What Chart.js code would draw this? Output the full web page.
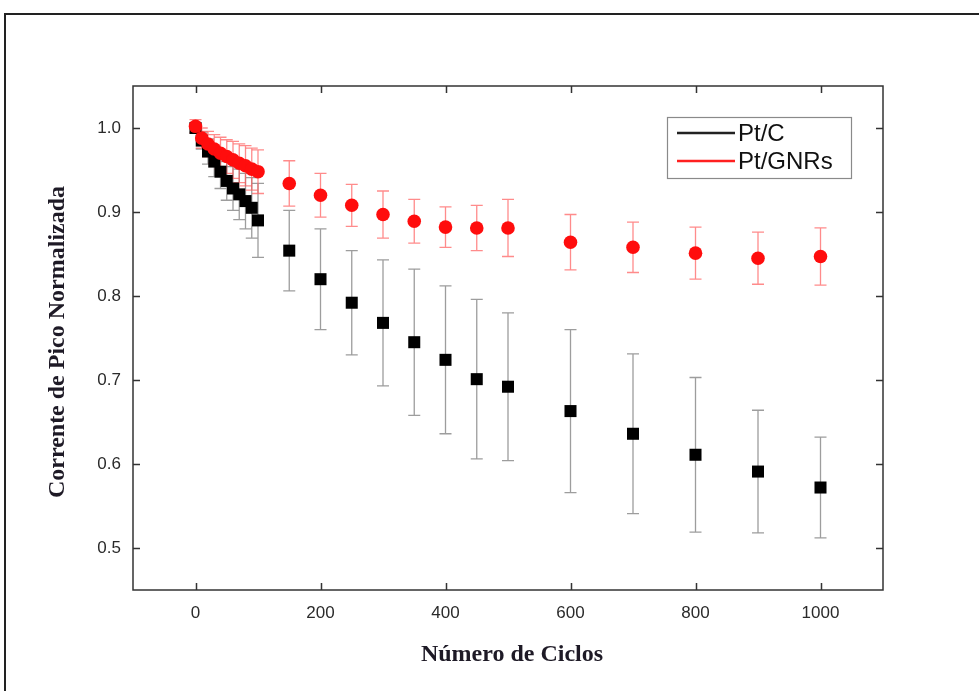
<!DOCTYPE html>
<html>
<head>
<meta charset="utf-8">
<script src="https://cdn.jsdelivr.net/npm/chart.js@4/dist/chart.umd.min.js"></script>
<style>
html,body{margin:0;padding:0;background:#fff;}
#wrap{width:979px;height:691px;position:relative;}
</style>
</head>
<body>
<div id="wrap"><canvas id="c" width="979" height="691"></canvas></div>
<script>
// ---- data ----
const cycles = [0,10,20,30,40,50,60,70,80,90,100,150,200,250,300,350,400,450,500,600,700,800,900,1000];
const ptC      = [1.000,0.985,0.972,0.960,0.948,0.937,0.928,0.921,0.913,0.905,0.890,0.854,0.820,0.792,0.768,0.745,0.724,0.701,0.692,0.663,0.636,0.611,0.591,0.572];
const ptCErr   = [0.005,0.010,0.015,0.018,0.020,0.023,0.026,0.030,0.033,0.036,0.044,0.048,0.060,0.062,0.075,0.087,0.088,0.095,0.088,0.097,0.095,0.092,0.073,0.060];
const ptGNR    = [1.002,0.988,0.981,0.975,0.970,0.966,0.962,0.958,0.955,0.951,0.948,0.934,0.920,0.908,0.897,0.889,0.882,0.881,0.881,0.864,0.858,0.851,0.845,0.847];
const ptGNRErr = [0.008,0.012,0.015,0.017,0.019,0.020,0.022,0.023,0.024,0.025,0.026,0.027,0.026,0.025,0.028,0.026,0.024,0.027,0.034,0.033,0.030,0.031,0.031,0.034];
const xTicks = [0,200,400,600,800,1000];
const yTicks = [0.5,0.6,0.7,0.8,0.9,1.0];
const seriesLabels = ['Pt/C','Pt/GNRs'];
const xTitle = 'Número de Ciclos';
const yTitle = 'Corrente de Pico Normalizada';

const toPts = (ys) => cycles.map((x,i)=>({x:x,y:ys[i]}));

const errPlugin = {
  id:'errbars',
  beforeDatasetsDraw(chart){
    const ctx = chart.ctx, xs = chart.scales.x, ys = chart.scales.y;
    const sets = [[ptC,ptCErr,'rgba(140,140,140,0.85)'],[ptGNR,ptGNRErr,'rgba(255,90,90,0.7)']];
    ctx.save();
    ctx.lineWidth = 1.3;
    sets.forEach(([v,e,col])=>{
      ctx.strokeStyle = col;
      cycles.forEach((c,i)=>{
        const px = xs.getPixelForValue(c);
        const top = ys.getPixelForValue(v[i]+e[i]);
        const bot = ys.getPixelForValue(v[i]-e[i]);
        ctx.beginPath();
        ctx.moveTo(px,top); ctx.lineTo(px,bot);
        ctx.moveTo(px-6,top); ctx.lineTo(px+6,top);
        ctx.moveTo(px-6,bot); ctx.lineTo(px+6,bot);
        ctx.stroke();
      });
    });
    ctx.restore();
  }
};

const framePlugin = {
  id:'frame',
  beforeDraw(chart){
    const ctx = chart.ctx;
    ctx.save();
    ctx.fillStyle='#fff';
    ctx.fillRect(0,0,chart.width,chart.height);
    ctx.strokeStyle='#222';
    ctx.lineWidth=2;
    ctx.strokeRect(5,14,1000,720);
    ctx.restore();
  },
  afterDraw(chart){
    const ctx = chart.ctx, a = chart.chartArea, xs = chart.scales.x, ys = chart.scales.y;
    ctx.save();
    ctx.strokeStyle='#333';
    ctx.lineWidth=1.5;
    ctx.strokeRect(a.left,a.top,a.right-a.left,a.bottom-a.top);
    ctx.beginPath();
    xTicks.forEach(t=>{
      const px = Math.round(xs.getPixelForValue(t))+0.5;
      ctx.moveTo(px,a.bottom); ctx.lineTo(px,a.bottom-7);
      ctx.moveTo(px,a.top); ctx.lineTo(px,a.top+7);
    });
    yTicks.forEach(t=>{
      const py = Math.round(ys.getPixelForValue(t))+0.5;
      ctx.moveTo(a.left,py); ctx.lineTo(a.left+7,py);
      ctx.moveTo(a.right,py); ctx.lineTo(a.right-7,py);
    });
    ctx.stroke();

    // axis titles
    ctx.fillStyle='#1e1a26';
    ctx.font='bold 24px "Liberation Serif", "Times New Roman", serif';
    ctx.textAlign='center'; ctx.textBaseline='middle';
    ctx.fillText(xTitle, 512, 655);
    ctx.save();
    ctx.translate(58,342);
    ctx.rotate(-Math.PI/2);
    ctx.fillText(yTitle,0,0);
    ctx.restore();

    // legend
    ctx.fillStyle='#fff';
    ctx.fillRect(667,117,184,61);
    ctx.strokeStyle='#8a8a8a';
    ctx.lineWidth=1.2;
    ctx.strokeRect(667.5,117.5,184,61);
    const cols=['#222','#ff2020'];
    const ly=[133,161];
    ctx.font='24px "Liberation Sans", Arial, sans-serif';
    ctx.textAlign='left'; ctx.textBaseline='middle';
    seriesLabels.forEach((l,i)=>{
      ctx.strokeStyle=cols[i]; ctx.lineWidth=2.5;
      ctx.beginPath(); ctx.moveTo(677,ly[i]); ctx.lineTo(735,ly[i]); ctx.stroke();
      ctx.fillStyle='#111';
      ctx.fillText(l,738,ly[i]+1);
    });
    ctx.restore();
  }
};

new Chart(document.getElementById('c'),{
  type:'scatter',
  data:{datasets:[
    {label:seriesLabels[0],data:toPts(ptC),pointStyle:'rect',pointRadius:8.5,backgroundColor:'#000',borderColor:'#000',borderWidth:0,order:1},
    {label:seriesLabels[1],data:toPts(ptGNR),pointStyle:'circle',pointRadius:6.8,backgroundColor:'#ff0d0d',borderColor:'#ff0d0d',borderWidth:0,order:0}
  ]},
  options:{
    responsive:false,animation:false,
    layout:{padding:{top:86,right:96,left:0,bottom:0}},
    plugins:{legend:{display:false},tooltip:{enabled:false}},
    scales:{
      x:{type:'linear',min:-100,max:1100,
        afterBuildTicks(s){s.ticks=xTicks.map(v=>({value:v}));},
        afterFit(s){s.height=101;},
        grid:{display:false},border:{display:false},
        ticks:{padding:5,color:'#2a2a2a',font:{family:'"Liberation Sans", Arial, sans-serif',size:17},maxRotation:0,autoSkip:false,callback:v=>String(v)}},
      y:{type:'linear',min:0.45,max:1.05,
        afterBuildTicks(s){s.ticks=yTicks.map(v=>({value:v}));},
        afterFit(s){s.width=133;},
        grid:{display:false},border:{display:false},
        ticks:{padding:4,color:'#2a2a2a',font:{family:'"Liberation Sans", Arial, sans-serif',size:17},autoSkip:false,callback:v=>Number(v).toFixed(1)}}
    }
  },
  plugins:[framePlugin,errPlugin]
});
</script>
</body>
</html>
